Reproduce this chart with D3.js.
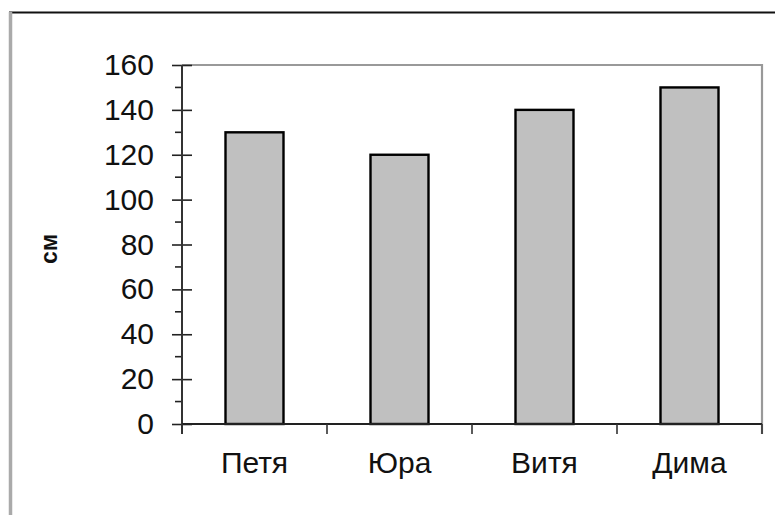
<!DOCTYPE html>
<html><head><meta charset="utf-8">
<script src="https://cdn.jsdelivr.net/npm/d3@7"></script>
<style>html,body{margin:0;padding:0;background:#fff}svg{display:block}</style>
</head><body>
<script>
const categories = ["Петя", "Юра", "Витя", "Дима"];
const values = [130, 120, 140, 150];
const yTicks = [0, 20, 40, 60, 80, 100, 120, 140, 160];
const yMinorTicks = [10, 30, 50, 70, 90, 110, 130, 150];
const yLabel = "см";

(function () {
const W = 775, H = 515;
const svg = d3.select("body").append("svg").attr("width", W).attr("height", H);

// outer frame
svg.append("line").attr("x1", 9).attr("x2", W).attr("y1", 12.5).attr("y2", 12.5)
  .attr("stroke", "#111").attr("stroke-width", 1.8);
svg.append("line").attr("x1", 10.5).attr("x2", 10.5).attr("y1", 12).attr("y2", H)
  .attr("stroke", "#aaa").attr("stroke-width", 3.5);

const pL = 182, pR = 762, pT = 65, pB = 424;
const x = d3.scaleBand().domain(categories).range([pL, pR]).paddingInner(0).paddingOuter(0);
const y = d3.scaleLinear().domain([0, 160]).range([pB, pT]);

// plot border (top, right)
svg.append("path").attr("d", `M${pL},${pT}H${pR}V${pB + 10}`)
  .attr("fill", "none").attr("stroke", "#999").attr("stroke-width", 2.2);

// bars
const bw = x.bandwidth() * 0.4;
svg.selectAll("rect.bar").data(values).join("rect").attr("class", "bar")
  .attr("x", (d, i) => x(categories[i]) + x.bandwidth() / 2 - bw / 2)
  .attr("width", bw)
  .attr("y", d => y(d))
  .attr("height", d => y(0) - y(d))
  .attr("fill", "#c0c0c0").attr("stroke", "#000").attr("stroke-width", 2.4);

// y axis
const yAxis = svg.append("g").attr("transform", `translate(${pL},0)`)
  .call(d3.axisLeft(y).tickValues(yTicks).tickSize(0).tickPadding(28).tickFormat(d3.format("d")));
yAxis.select(".domain").remove();
yAxis.selectAll("text").attr("font-family", "Liberation Sans, Arial, sans-serif")
  .attr("font-size", 30).attr("fill", "#111");
yAxis.selectAll(".tick").append("line").attr("x1", -10).attr("x2", 10)
  .attr("stroke", "#222").attr("stroke-width", 1.6);
svg.append("g").selectAll("line").data(yMinorTicks).join("line")
  .attr("x1", pL - 7).attr("x2", pL).attr("y1", d => y(d)).attr("y2", d => y(d))
  .attr("stroke", "#222").attr("stroke-width", 1.6);
svg.append("line").attr("x1", pL).attr("x2", pL).attr("y1", pT).attr("y2", pB + 10)
  .attr("stroke", "#333").attr("stroke-width", 2);

// x axis
svg.append("line").attr("x1", pL).attr("x2", pR).attr("y1", pB).attr("y2", pB)
  .attr("stroke", "#222").attr("stroke-width", 2);
const bounds = categories.map(c => x(c)).concat([pR]);
svg.append("g").selectAll("line").data(bounds).join("line")
  .attr("x1", d => d).attr("x2", d => d).attr("y1", pB).attr("y2", pB + 10)
  .attr("stroke", "#333").attr("stroke-width", 1.6);
svg.append("g").selectAll("text").data(categories).join("text")
  .attr("x", d => x(d) + x.bandwidth() / 2).attr("y", 473)
  .attr("text-anchor", "middle")
  .attr("font-family", "Liberation Sans, Arial, sans-serif").attr("font-size", 30)
  .attr("fill", "#111").text(d => d);

// y label
svg.append("text").attr("transform", "translate(57,249) rotate(-90)")
  .attr("text-anchor", "middle")
  .attr("font-family", "Liberation Sans, Arial, sans-serif").attr("font-size", 23)
  .attr("font-weight", "bold").attr("fill", "#111").text(yLabel);
})();
</script>
</body></html>
